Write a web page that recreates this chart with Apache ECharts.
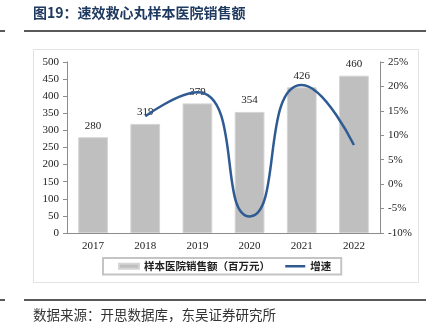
<!DOCTYPE html>
<html><head><meta charset="utf-8">
<script src="https://cdn.jsdelivr.net/npm/echarts@6/dist/echarts.min.js"></script>
<style>html,body{margin:0;padding:0;background:#fff}#c{width:436px;height:330px}</style>
</head><body><div id="c"></div>
<script>
const categories = ['2017','2018','2019','2020','2021','2022'];
const sales = [280, 319, 379, 354, 426, 460];
const growth = [null, 13.9, 18.8, -6.6, 20.3, 8.0];
const leftTicks = {min: 0, max: 500, interval: 50};
const rightTicks = {min: -10, max: 25, interval: 5};
const titleText = '图19：速效救心丸样本医院销售额';
const sourceText = '数据来源：开思数据库，东吴证券研究所';
const barName = '样本医院销售额（百万元）';
const lineName = '增速';

const serif = '"Liberation Serif","Times New Roman",serif';
const cjk = '"Noto Sans CJK SC",sans-serif';
const chart = echarts.init(document.getElementById('c'), null, {renderer: 'canvas'});
chart.setOption({
  animation: false,
  backgroundColor: '#fff',
  grid: {left: 67, right: 56, top: 62, bottom: 97},
  graphic: [
    {type: 'line', shape: {x1: 0, y1: 31, x2: 5, y2: 31}, style: {stroke: '#222', lineWidth: 1.5}},
    {type: 'line', shape: {x1: 24, y1: 31, x2: 426, y2: 31}, style: {stroke: '#222', lineWidth: 1.5}},
    {type: 'line', shape: {x1: 0, y1: 300, x2: 5, y2: 300}, style: {stroke: '#222', lineWidth: 1.5}},
    {type: 'line', shape: {x1: 24, y1: 300, x2: 426, y2: 300}, style: {stroke: '#222', lineWidth: 1.5}},
    {type: 'rect', shape: {x: 33.5, y: 49.5, width: 385, height: 233}, style: {fill: 'none', stroke: '#e2e2e2', lineWidth: 1}, z: -1},
    {type: 'text', left: 33, top: 6, style: {text: titleText, font: 'bold 14px ' + cjk, fill: '#1f3a60'}},
    {type: 'text', left: 33, top: 308, style: {text: sourceText, font: '13.5px ' + cjk, fill: '#333'}}
  ],
  legend: {
    left: 103, top: 258, width: 300,
    padding: [3, 10, 3, 15],
    borderColor: '#c4c4c4', borderWidth: 2,
    itemWidth: 20, itemHeight: 5, itemGap: 14,
    textStyle: {fontFamily: cjk, fontSize: 10.5, color: '#222', fontWeight: 'bold'},
    data: [
      {name: barName, icon: 'rect'},
      {name: lineName, itemStyle: {opacity: 0, borderWidth: 0}, lineStyle: {color: '#2f5b93', width: 2.5}}
    ]
  },
  xAxis: {
    type: 'category', data: categories,
    axisLine: {lineStyle: {color: '#8c8c8c', width: 1}},
    axisTick: {show: false},
    axisLabel: {fontFamily: serif, fontSize: 11, color: '#222', margin: 8}
  },
  yAxis: [
    {
      type: 'value', min: leftTicks.min, max: leftTicks.max, interval: leftTicks.interval,
      splitLine: {show: false},
      axisLine: {show: true, lineStyle: {color: '#8c8c8c'}},
      axisTick: {show: true, length: 4, lineStyle: {color: '#8c8c8c'}},
      axisLabel: {fontFamily: serif, fontSize: 11, color: '#222', margin: 8}
    },
    {
      type: 'value', min: rightTicks.min, max: rightTicks.max, interval: rightTicks.interval,
      position: 'right', alignTicks: false,
      splitLine: {show: false},
      axisLine: {show: true, lineStyle: {color: '#8c8c8c'}},
      axisTick: {show: true, length: 4, lineStyle: {color: '#8c8c8c'}},
      axisLabel: {fontFamily: serif, fontSize: 11, color: '#222', margin: 8, formatter: '{value}%'}
    }
  ],
  series: [
    {
      name: barName, type: 'bar', data: sales, barWidth: '57%',
      itemStyle: {color: '#bfbfbf', borderColor: '#d4d4d4', borderWidth: 1},
      label: {show: true, position: 'top', distance: 6, fontFamily: serif, fontSize: 11, color: '#222'}
    },
    {
      name: lineName, type: 'line', yAxisIndex: 1, data: growth, smooth: 0.6,
      symbol: 'none', connectNulls: false,
      lineStyle: {color: '#2f5b93', width: 2.5},
      itemStyle: {color: '#2f5b93'}
    }
  ]
});
</script></body></html>
